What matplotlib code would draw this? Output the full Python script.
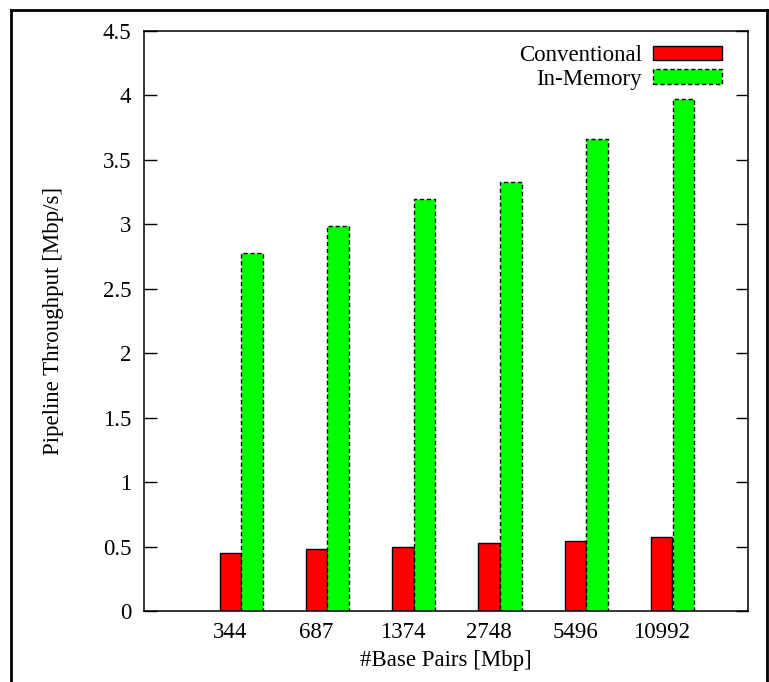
import matplotlib
matplotlib.use("Agg")
import matplotlib.pyplot as plt
import numpy as np
from matplotlib.lines import Line2D

categories = ["344", "687", "1374", "2748", "5496", "10992"]
conventional = [0.45, 0.48, 0.50, 0.525, 0.54, 0.575]
in_memory = [2.78, 2.99, 3.20, 3.33, 3.66, 3.97]
yticks = [0, 0.5, 1, 1.5, 2, 2.5, 3, 3.5, 4, 4.5]
ytick_labels = ["0", "0.5", "1", "1.5", "2", "2.5", "3", "3.5", "4", "4.5"]

plt.rcParams['font.family'] = ['Liberation Serif', 'DejaVu Serif']
FS = 16.5

fig = plt.figure(figsize=(7.69, 6.82), dpi=100)
W, H = 769, 682
ax = fig.add_axes([144 / W, 1 - 611 / H, (748 - 144) / W, (611 - 31) / H])

x = np.arange(len(categories))
w = 0.25
b1 = ax.bar(x, conventional, w, color='#ff0000', edgecolor='black', linewidth=1.0,
            label='Conventional')
b2 = ax.bar(x + w, in_memory, w, color='#00ff00', edgecolor='black', linewidth=1.0,
            linestyle=(0, (3, 2)), label='In-Memory')

ax.set_xlim(-1, 6)
ax.set_ylim(0, 4.5)
ax.set_xticks(x)
ax.set_xticklabels(categories, fontsize=FS)
ax.set_yticks(yticks)
ax.set_yticklabels(ytick_labels, fontsize=FS)
ax.tick_params(axis='x', length=0, pad=8)
ax.tick_params(axis='y', direction='in', length=9, width=1, pad=9, right=True)
for s in ax.spines.values():
    s.set_linewidth(1.1)

ax.set_xlabel('#Base Pairs [Mbp]', fontsize=FS, labelpad=5)
ax.set_ylabel('Pipeline Throughput [Mbp/s]', fontsize=FS, labelpad=28)

leg = ax.legend(handles=[b1, b2], loc='upper right', frameon=False, markerfirst=False,
                fontsize=FS, handlelength=3.0, handleheight=0.6, handletextpad=0.5,
                labelspacing=0.12, borderaxespad=0, borderpad=0,
                bbox_to_anchor=((722 - 144) / 604, (611 - 45) / 580))

# outer frame
lw = 2.0
fig.add_artist(Line2D([11 / W, 767 / W], [1 - 10 / H, 1 - 10 / H], color='black', lw=lw,
                      transform=fig.transFigure))
fig.add_artist(Line2D([11 / W, 11 / W], [1 - 10 / H, 0], color='black', lw=lw,
                      transform=fig.transFigure))
fig.add_artist(Line2D([767 / W, 767 / W], [1 - 10 / H, 0], color='black', lw=lw,
                      transform=fig.transFigure))

fig.savefig('out.png', dpi=100)
